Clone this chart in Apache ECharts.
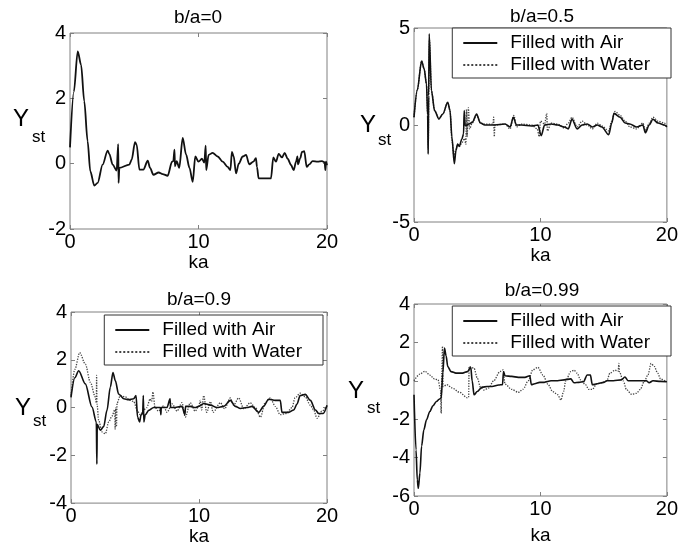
<!DOCTYPE html>
<html>
<head>
<meta charset="utf-8">
<script src="https://cdn.jsdelivr.net/npm/echarts@6.0.0/dist/echarts.min.js"></script>
<style>
  html, body { margin: 0; padding: 0; background: #fff; }
  #chart { width: 681px; height: 547px; }
</style>
</head>
<body>
<div id="chart"></div>
<script>
const air0 = [[0,0.5],[0.3,2.2],[0.6,3.44],[0.86,3.03],[1.11,1.91],[1.37,0.69],[1.58,-0.23],[1.89,-0.67],[2.15,-0.59],[2.54,-0.03],[2.93,0.4],[3.06,0.3],[3.32,-0.03],[3.63,-0.21],[3.75,0.6],[3.78,-0.59],[3.84,-0.13],[4.61,-0.03],[4.8,0.12],[5.06,0.66],[5.19,0.58],[5.4,-0.18],[5.71,-0.18],[6.05,0.09],[6.23,-0.13],[6.49,-0.34],[6.9,-0.27],[7.21,-0.32],[7.6,-0.37],[7.94,0.06],[8.04,0.08],[8.13,0.43],[8.17,-0.08],[8.3,0.08],[8.5,-0.13],[8.77,0.79],[9.03,0.28],[9.3,-0.13],[9.55,-0.56],[9.75,0.22],[10.0,0.06],[10.27,0.15],[10.45,0.03],[10.56,0.55],[10.6,-0.2],[10.79,0.27],[11.1,0.33],[11.49,0.22],[11.88,0.06],[12.27,-0.1],[12.48,-0.2],[12.6,0.36],[12.74,0.22],[12.92,-0.3],[13.13,0.0],[13.44,0.22],[13.7,0.27],[13.95,-0.02],[14.27,0.06],[14.47,0.17],[14.55,-0.1],[14.68,-0.45],[15.51,-0.45],[15.64,-0.45],[15.82,0.19],[16.03,0.06],[16.24,0.3],[16.5,0.19],[16.71,0.33],[16.94,0.15],[17.2,-0.04],[17.41,-0.2],[17.59,0.06],[17.7,0.22],[17.74,-0.02],[17.92,0.17],[18.05,0.36],[18.23,0.38],[18.42,-0.1],[18.62,-0.02],[18.88,0.08],[19.27,0.06],[19.61,0.08],[19.82,0.04],[19.87,-0.2],[19.92,0.06],[20,-0.05]];

const air5 = [[0,0.4],[0.26,1.8],[0.6,3.3],[0.8,2.9],[0.99,2.1],[1.08,0.5],[1.12,-1.5],[1.16,1.5],[1.2,4.7],[1.38,1.77],[1.63,0.74],[1.97,0.31],[2.28,0.57],[2.67,1.17],[2.85,0.75],[3.0,-0.64],[3.19,-2.0],[3.32,-1.3],[3.45,-0.98],[3.58,-1.1],[3.79,-0.72],[3.92,-0.46],[3.97,0.74],[4.05,-0.04],[4.36,0.05],[4.62,0.15],[4.95,0.57],[5.25,0.1],[5.6,0],[6.4,0],[7.2,0.05],[7.6,-0.1],[7.86,0.4],[8.1,0],[8.5,0],[9.3,-0.05],[9.8,0],[10.06,-0.55],[10.33,0],[10.84,0.05],[11.36,0],[11.88,-0.1],[12.2,-0.2],[12.5,0.3],[12.9,-0.2],[13.3,0],[13.7,0.05],[14.1,-0.1],[14.5,0],[14.86,-0.1],[15.4,-0.5],[15.64,0.1],[15.82,0.6],[16.3,0.4],[16.7,0.1],[17.07,0.05],[17.6,-0.1],[18.1,0],[18.3,-0.4],[18.6,0],[18.9,0.3],[19.3,0.1],[19.8,0],[20,-0.1]];
const water5 = [[0,0.4],[0.26,1.8],[0.6,3.3],[0.8,2.9],[0.99,2.1],[1.08,0.5],[1.13,-1.3],[1.17,1.5],[1.22,4.4],[1.38,1.8],[1.63,0.74],[1.97,0.31],[2.28,0.57],[2.67,1.17],[2.85,0.75],[3.0,-0.8],[3.15,-1.6],[3.3,-1.3],[3.45,-1.0],[3.6,-1.1],[3.8,-0.9],[4.0,-0.7],[4.1,-1.0],[4.15,0.8],[4.2,-0.6],[4.3,0.9],[4.4,-0.2],[4.6,0.1],[4.95,0.5],[5.25,0.1],[5.6,0.05],[6.25,0.05],[6.3,0.4],[6.35,-0.6],[6.4,0],[7.2,0.05],[7.6,-0.2],[7.9,0.5],[8.1,-0.1],[8.5,0.05],[9.3,0],[9.75,-0.2],[9.9,-0.6],[10.0,0.2],[10.33,0.05],[10.5,0.6],[10.55,-0.3],[10.84,0.1],[11.36,0.05],[11.88,-0.15],[12.2,0.1],[12.5,0.4],[12.9,-0.1],[13.3,0.2],[13.7,0.0],[14.1,-0.2],[14.5,0.1],[14.86,-0.05],[15.4,-0.3],[15.64,0.2],[15.9,0.7],[16.3,0.5],[16.7,0.2],[17.07,-0.1],[17.6,-0.2],[18.1,0.1],[18.3,-0.3],[18.6,0.1],[18.9,0.4],[19.3,0.2],[19.8,0.1],[20,-0.1]];

const air9 = [[0,0.43],[0.3,1.25],[0.6,1.54],[1.12,0.99],[1.64,0.02],[1.98,-0.6],[2.02,-2.37],[2.05,-0.7],[2.29,-0.95],[2.55,-0.8],[2.81,-0.12],[3.07,0.85],[3.28,1.47],[3.46,1.13],[3.72,0.57],[4.12,0.37],[4.5,0.33],[4.9,0.37],[5.08,0.5],[5.2,-0.4],[5.36,-0.6],[5.47,-0.3],[5.6,-0.25],[5.65,0.5],[5.69,-0.6],[5.8,-0.3],[6.07,-0.12],[6.46,0],[6.98,0],[7.02,-0.3],[7.05,0],[7.5,0],[7.74,0.37],[7.78,0],[8.0,0],[8.67,0.05],[8.9,-0.3],[8.95,0.05],[9.32,0.05],[9.7,0],[9.98,0.05],[10.37,0.17],[10.9,0.1],[11.4,0],[11.93,0.05],[12.45,0.3],[12.84,0.05],[13.23,-0.04],[13.75,0],[14.14,0.05],[14.66,-0.2],[15.05,0.05],[15.44,0.35],[15.96,0.3],[16.35,0.3],[16.48,-0.2],[17.0,-0.2],[17.4,-0.1],[17.66,0.15],[17.9,0.5],[18.3,0.55],[18.7,0.3],[19.1,-0.1],[19.35,-0.25],[19.7,-0.25],[20,0.1]];
const water9 = [[0,0.5],[0.3,1.6],[0.68,2.3],[1.12,1.82],[1.51,1.06],[1.9,0.44],[1.98,0.2],[2.0,1.35],[2.03,0.16],[2.16,-0.53],[2.42,-1.02],[2.68,-1.1],[2.95,-0.6],[3.2,-0.36],[3.42,-0.1],[3.45,-0.9],[3.5,0.0],[3.55,-0.8],[3.6,0.19],[3.85,0.5],[4.24,0.45],[4.63,0.3],[4.9,0.25],[5.2,-0.15],[5.4,-0.3],[5.67,-0.1],[5.92,0],[6.18,0.36],[6.3,0.25],[6.4,0.65],[6.57,0],[6.83,-0.15],[7.24,0.07],[7.5,-0.2],[7.9,0.15],[8.28,-0.15],[8.67,0.2],[8.93,-0.4],[9.32,0.2],[9.7,-0.15],[9.98,0.05],[10.1,0.3],[10.2,-0.1],[10.37,0.5],[10.6,-0.2],[10.9,0.25],[11.1,-0.2],[11.67,0.2],[12.0,-0.05],[12.45,0.4],[12.7,0.1],[13.1,0.4],[13.5,-0.05],[14.0,0.2],[14.4,0.0],[14.8,-0.4],[15.17,0.2],[15.57,0.4],[15.96,0.05],[16.35,-0.3],[16.8,-0.25],[17.27,0.0],[17.5,0.4],[17.9,0.6],[18.3,0.45],[18.7,0.1],[18.96,-0.1],[19.22,-0.45],[19.6,-0.15],[20,0.05]];

const air99 = [[0,-0.73],[0.16,-3.6],[0.26,-5.16],[0.34,-5.6],[0.47,-4.8],[0.6,-3.4],[0.78,-2.55],[0.99,-2.03],[1.25,-1.6],[1.5,-1.3],[1.77,-1.08],[2.02,-0.95],[2.15,-0.9],[2.28,0.4],[2.41,1.7],[2.54,1.3],[2.67,0.74],[2.93,0.48],[3.32,0.4],[3.84,0.4],[4.23,0.48],[4.49,0.7],[4.6,0],[4.75,-0.73],[5.0,-0.56],[5.39,-0.33],[5.78,-0.3],[6.17,-0.3],[6.7,-0.22],[7.0,-0.2],[7.08,0.48],[7.2,0.26],[7.73,0.23],[8.25,0.18],[8.77,0.18],[9.16,0.26],[9.28,-0.2],[9.55,-0.15],[9.94,-0.08],[10.3,-0.08],[10.84,0],[11.36,0],[11.88,0.05],[12.4,0.1],[12.66,-0.1],[13.05,-0.08],[13.4,-0.05],[13.7,0.3],[13.95,0.3],[14.1,-0.2],[14.5,-0.15],[15.0,-0.08],[15.25,0],[15.77,0],[16.4,0.05],[16.68,0.2],[16.94,0],[17.59,0],[18.37,0],[18.6,-0.1],[18.9,0],[19.5,-0.03],[20,-0.05]];
const water99 = [[0,0],[0.47,0.35],[0.86,0.5],[1.25,0.3],[1.63,0.09],[1.9,0.05],[2.1,-0.5],[2.15,-1.7],[2.2,0.5],[2.25,1.8],[2.3,-0.3],[2.6,-0.2],[3.0,-0.37],[3.6,-0.6],[4.23,-0.89],[4.32,-0.85],[4.36,0.74],[4.75,0.65],[5.0,0.15],[5.27,-0.35],[5.53,-0.48],[5.9,-0.38],[6.3,0],[6.8,0.48],[7.05,0.57],[7.2,-0.17],[7.73,-0.45],[8.25,-0.6],[8.64,-0.43],[9.03,0],[9.4,0.57],[9.8,0.7],[10.2,0.3],[10.58,-0.17],[10.97,-0.56],[11.36,-0.72],[11.62,-1.0],[11.83,-0.56],[12.0,0],[12.4,0.48],[12.66,0.55],[12.9,0.4],[13.17,0.05],[13.56,-0.2],[13.83,-0.45],[14.09,-0.45],[14.47,-0.15],[14.86,-0.1],[15.25,0],[15.5,0.4],[15.9,0.55],[16.15,0.5],[16.2,0.9],[16.25,0.45],[16.55,0],[16.8,-0.45],[17.2,-0.7],[17.6,-0.65],[17.9,-0.45],[18.2,-0.05],[18.5,0.3],[18.75,0.9],[19.0,0.75],[19.27,0.4],[19.5,0.1],[19.9,0],[20,0]];

const titles = ['b/a=0', 'b/a=0.5', 'b/a=0.9', 'b/a=0.99'];
const yRanges = [[-2, 4, 2], [-5, 5, 5], [-4, 4, 2], [-6, 4, 2]];
const xRange = [0, 20, 10];
const legendNames = ['Filled with Air', 'Filled with Water'];

const FONT = '"Liberation Sans", Arial, Helvetica, sans-serif';

// layout of the four panels
const panels = [
    { grid: { left: 70, top: 33, width: 257, height: 196 }, tx: 198, ty: 8, nameGap: 17, yl: [13, 119, 32, 137] },
    { grid: { left: 414, top: 28, width: 257, height: 194 }, tx: 542, ty: 7, nameGap: 15, yl: [360, 125, 378, 140] },
    { grid: { left: 71, top: 312, width: 256, height: 193 }, tx: 199, ty: 290, nameGap: 20, yl: [15, 408, 33, 421] },
    { grid: { left: 414, top: 304, width: 257, height: 192 }, tx: 542, ty: 281, nameGap: 30, yl: [348, 391, 367, 408] }
];

const tick = { inside: true, length: 4, lineStyle: { color: '#808080', width: 1 } };
const label = { fontSize: 20, color: '#000', fontFamily: FONT };

const xAxis = [];
const yAxis = [];
panels.forEach((p, i) => {
    xAxis.push({
        type: 'value', gridIndex: i, position: 'bottom',
        min: xRange[0], max: xRange[1], interval: xRange[2],
        name: 'ka', nameLocation: 'middle', nameGap: p.nameGap,
        nameTextStyle: { fontSize: 19, color: '#000', fontFamily: FONT },
        axisLine: { show: false, onZero: false },
        axisTick: tick,
        axisLabel: { ...label, margin: 3 },
        splitLine: { show: false }
    });
    yAxis.push({
        type: 'value', gridIndex: i, position: 'left',
        min: yRanges[i][0], max: yRanges[i][1], interval: yRanges[i][2],
        axisLine: { show: false, onZero: false },
        axisTick: tick,
        axisLabel: { ...label, margin: 4 },
        splitLine: { show: false }
    });
});
// mirrored ticks on top and right, like matlab boxes
panels.forEach((p, i) => {
    xAxis.push({
        type: 'value', gridIndex: i, position: 'top',
        min: xRange[0], max: xRange[1], interval: xRange[2],
        axisLine: { show: false, onZero: false }, axisTick: tick,
        axisLabel: { show: false }, splitLine: { show: false }
    });
    yAxis.push({
        type: 'value', gridIndex: i, position: 'right',
        min: yRanges[i][0], max: yRanges[i][1], interval: yRanges[i][2],
        axisLine: { show: false, onZero: false }, axisTick: tick,
        axisLabel: { show: false }, splitLine: { show: false }
    });
});

const airLine = { color: '#111', width: 1.6 };
const waterLine = { color: '#444', width: 1.3, type: 'dotted' };

function line(name, data, i, style, z) {
    return {
        type: 'line', name, data, xAxisIndex: i, yAxisIndex: i,
        symbol: 'none', smooth: 0.3, smoothMonotone: 'x',
        lineStyle: style, itemStyle: { color: style.color },
        z, animation: false
    };
}

const series = [
    line('b/a=0', air0, 0, { color: '#111', width: 1.8 }, 3),
    line(legendNames[1], water5, 1, waterLine, 2),
    line(legendNames[0], air5, 1, airLine, 3),
    line(legendNames[1], water9, 2, waterLine, 2),
    line(legendNames[0], air9, 2, airLine, 3),
    line(legendNames[1], water99, 3, waterLine, 2),
    line(legendNames[0], air99, 3, airLine, 3)
];

function legendAt(pos) {
    return {
        orient: 'vertical', ...pos,
        data: legendNames,
        padding: [5, 21, 3, 10],
        itemWidth: 34, itemHeight: 14, itemGap: 2,
        borderColor: '#333', borderWidth: 1, borderRadius: 0,
        backgroundColor: '#fff',
        selectedMode: false,
        itemStyle: { opacity: 0 },
        textStyle: { fontSize: 19, lineHeight: 20, color: '#000', fontFamily: FONT, padding: [0, 0, 0, 8] }
    };
}

const graphic = [];
panels.forEach(p => {
    graphic.push({ type: 'text', x: p.yl[0], y: p.yl[1], style: { text: 'Y', font: '24px ' + FONT, fill: '#000', textAlign: 'left', textVerticalAlign: 'middle' } });
    graphic.push({ type: 'text', x: p.yl[2], y: p.yl[3], style: { text: 'st', font: '17px ' + FONT, fill: '#000', textAlign: 'left', textVerticalAlign: 'middle' } });
});

const option = {
    backgroundColor: '#fff',
    animation: false,
    title: panels.map((p, i) => ({
        text: titles[i], left: p.tx, top: p.ty, textAlign: 'center', padding: 0,
        textStyle: { fontSize: 19, fontWeight: 'normal', color: '#000', fontFamily: FONT }
    })),
    grid: panels.map(p => ({ ...p.grid, show: true, borderColor: '#808080', borderWidth: 1, backgroundColor: 'transparent', containLabel: false })),
    legend: [
        legendAt({ right: 10, top: 28 }),
        legendAt({ right: 358, top: 315 }),
        legendAt({ right: 10, top: 306 })
    ],
    xAxis,
    yAxis,
    series,
    graphic
};

const chart = echarts.init(document.getElementById('chart'));
chart.setOption(option);
</script>
</body>
</html>
